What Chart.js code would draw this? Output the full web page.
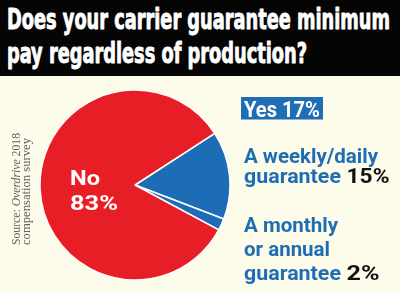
<!DOCTYPE html>
<html>
<head>
<meta charset="utf-8">
<script src="https://cdn.jsdelivr.net/npm/chart.js@4.4.1/dist/chart.umd.min.js"></script>
<style>
  html, body { margin: 0; padding: 0; }
  body { width: 400px; height: 292px; background: #fdfbea; position: relative; overflow: hidden; }
  #pieWrap { position: absolute; left: 39px; top: 89px; width: 192px; height: 192px; }
  #overlay { position: absolute; left: 0; top: 0; width: 400px; height: 292px; pointer-events: none; }
</style>
</head>
<body>
<div id="pieWrap"><canvas id="pie"></canvas></div>
<svg id="overlay" xmlns="http://www.w3.org/2000/svg" width="400" height="292" viewBox="0 0 400 292">
  <rect x="0" y="0" width="400" height="76" fill="#050505"/>
  <g font-family="'Liberation Sans Narrow','DejaVu Sans Condensed','DejaVu Sans',sans-serif" font-weight="bold" font-size="28" fill="#ffffff" stroke="#ffffff" stroke-width="0.9" stroke-linejoin="round">
    <text x="7" y="28.5" textLength="383" lengthAdjust="spacingAndGlyphs">Does your carrier guarantee minimum</text>
    <text x="7" y="63" textLength="300" lengthAdjust="spacingAndGlyphs">pay regardless of production?</text>
  </g>

  <g transform="translate(20,245) rotate(-90)" font-family="'Liberation Serif','DejaVu Serif',serif" font-size="12" fill="#62625e">
    <text x="0" y="0" textLength="112" lengthAdjust="spacingAndGlyphs">Source: <tspan font-style="italic">Overdrive</tspan> 2018</text>
    <text x="0" y="10" textLength="107" lengthAdjust="spacingAndGlyphs">compensation survey</text>
  </g>
  <g id="labels"></g>
</svg>
<script>
// ---- data ----
const categories = ['A weekly/daily guarantee', 'A monthly or annual guarantee', 'No'];
const values = [15, 2, 83];
const yesLabel = 'Yes';
const yesValue = 17;
const colors = ['#1d6db6', '#1d6db6', '#e81e26'];

// ---- pie ----
new Chart(document.getElementById('pie'), {
  type: 'pie',
  data: {
    labels: categories,
    datasets: [{
      data: values,
      backgroundColor: colors,
      borderColor: '#ffffff',
      borderWidth: 1.5
    }]
  },
  options: {
    responsive: true,
    maintainAspectRatio: false,
    animation: false,
    rotation: 57,
    radius: 95,
    layout: { padding: 0 },
    plugins: { legend: { display: false }, tooltip: { enabled: false } }
  }
});

// ---- labels ----
const NS = 'http://www.w3.org/2000/svg';
const g = document.getElementById('labels');
function txt(str, x, y, opts) {
  const t = document.createElementNS(NS, 'text');
  t.setAttribute('x', x);
  t.setAttribute('y', y);
  t.setAttribute('font-family', opts.family || "Roboto, 'DejaVu Sans', sans-serif");
  t.setAttribute('font-weight', opts.weight || 'bold');
  t.setAttribute('font-size', opts.size);
  t.setAttribute('fill', opts.fill);
  if (opts.len) { t.setAttribute('textLength', opts.len); t.setAttribute('lengthAdjust', 'spacingAndGlyphs'); }
  t.textContent = str;
  g.appendChild(t);
  return t;
}
const BLUE = '#1f6db5';
// Yes box
const box = document.createElementNS(NS, 'rect');
box.setAttribute('x', 241); box.setAttribute('y', 97); box.setAttribute('width', 82); box.setAttribute('height', 22.5);
box.setAttribute('fill', BLUE);
g.appendChild(box);
txt(yesLabel + ' ' + yesValue + '%', 244, 116.5, { size: 22, fill: '#ffffff', len: 76 });

// weekly/daily
txt('A weekly/daily', 244, 163.3, { size: 20.5, fill: BLUE, len: 134 });
txt('guarantee', 244, 183.3, { size: 20.5, fill: BLUE, len: 97 });
txt(values[0] + '%', 346.5, 183.3, { size: 20.5, fill: '#111111', len: 43 });

// monthly/annual
txt('A monthly', 244, 231.7, { size: 20.5, fill: BLUE, len: 94 });
txt('or annual', 244, 256.3, { size: 20.5, fill: BLUE, len: 86 });
txt('guarantee', 244, 280, { size: 20.5, fill: BLUE, len: 97 });
txt(values[1] + '%', 346.5, 280, { size: 20.5, fill: '#111111', len: 33 });

// No
txt(categories[2], 70, 185, { size: 21, fill: '#ffffff', len: 30 });
txt(values[2] + '%', 70, 210, { size: 21, fill: '#ffffff', len: 48 });
</script>
</body>
</html>
